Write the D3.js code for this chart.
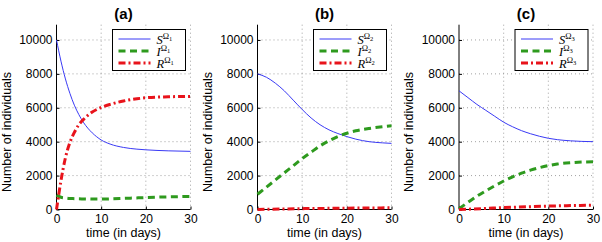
<!DOCTYPE html>
<html>
<head>
<meta charset="utf-8">
<script src="https://cdn.jsdelivr.net/npm/d3@7"></script>
<style>
  body { margin: 0; background: #fff; }
  svg { display: block; font-family: "Liberation Sans", Arial, sans-serif; }
</style>
</head>
<body>
<svg class="chart" width="602" height="242"></svg>
<script>
// time points (days) for each curve
const days = [0, 1, 2, 3, 4, 5, 6, 7, 8, 9, 10, 12, 15, 18, 20, 25, 30];
const days2 = [0, 2, 4, 6, 8, 10, 12, 14, 16, 18, 20, 22, 25, 28, 30];
const days3 = [0, 2, 4, 6, 8, 10, 12, 14, 16, 18, 20, 22, 25, 30];
const daysR = [0, 5, 10, 15, 20, 25, 30];

// panel (a)
const S1 = [10000, 8750, 7700, 6850, 6150, 5600, 5150, 4800, 4520, 4290, 4100, 3860, 3660, 3560, 3520, 3460, 3430];
const I1 = [850, 720, 680, 650, 640, 630, 625, 620, 615, 612, 612, 625, 655, 685, 705, 745, 775];
const R1 = [0, 1700, 3050, 3950, 4550, 5000, 5300, 5550, 5750, 5900, 6020, 6200, 6400, 6530, 6590, 6650, 6670];

// panel (b)
const S2 = [8000, 7800, 7450, 7000, 6450, 5900, 5400, 5000, 4700, 4480, 4300, 4150, 4000, 3930, 3900];
const I2 = [900, 1320, 1740, 2160, 2580, 3000, 3380, 3750, 4050, 4300, 4500, 4640, 4780, 4880, 4940];
const R2 = [0, 25, 50, 65, 80, 90, 100];

// panel (c)
const S3 = [7000, 6600, 6200, 5850, 5500, 5150, 4880, 4650, 4470, 4320, 4200, 4120, 4050, 4000];
const I3 = [50, 420, 780, 1100, 1400, 1680, 1930, 2140, 2320, 2470, 2590, 2680, 2760, 2820];
const R3 = [0, 50, 110, 160, 200, 230, 250];

const titles = ["(a)", "(b)", "(c)"];
const xTicks = [0, 10, 20, 30];
const yTicks = [0, 2000, 4000, 6000, 8000, 10000];

const panels = [
  { title: titles[0], sub: "1", S: [days, S1], I: [days, I1], R: [days, R1] },
  { title: titles[1], sub: "2", S: [days2, S2], I: [days2, I2], R: [daysR, R2] },
  { title: titles[2], sub: "3", S: [days3, S3], I: [days3, I3], R: [daysR, R3] }
];

const lefts = [56.5, 257.5, 459];
const pw = 134;
const plotTop = 24.7, plotBottom = 209.5;

const styles = {
  S: { color: "#3a3af5", width: 1, dash: null, name: "S" },
  I: { color: "#2e9a1e", width: 3, dash: "7,4.5", name: "I" },
  R: { color: "#e8131b", width: 3, dash: "7,3,2,3", name: "R" }
};

const svg = d3.select(".chart");

panels.forEach((p, k) => {
  const x = d3.scaleLinear().domain([0, 30]).range([lefts[k], lefts[k] + pw]);
  const y = d3.scaleLinear().domain([0, 10900]).range([plotBottom, plotTop]);

  const g = svg.append("g");

  // dotted grid
  g.append("g")
    .selectAll("line")
    .data(xTicks.slice(1))
    .join("line")
    .attr("x1", d => x(d)).attr("x2", d => x(d))
    .attr("y1", plotTop).attr("y2", plotBottom)
    .attr("stroke", "#8a8a8a").attr("stroke-width", 0.8)
    .attr("stroke-dasharray", "1,3");
  g.append("g")
    .selectAll("line")
    .data(yTicks.slice(1))
    .join("line")
    .attr("x1", x(0)).attr("x2", x(30))
    .attr("y1", d => y(d)).attr("y2", d => y(d))
    .attr("stroke", "#8a8a8a").attr("stroke-width", 0.8)
    .attr("stroke-dasharray", "1,3");

  // axes
  g.append("g")
    .attr("transform", `translate(0,${plotBottom})`)
    .call(d3.axisBottom(x).tickValues(xTicks).tickSize(-3).tickPadding(5))
    .call(a => a.select(".domain").attr("d", `M${x(0)},0H${x(30)}`))
    .call(a => a.selectAll("text").attr("font-size", 12).attr("fill", "#000"));
  g.append("g")
    .attr("transform", `translate(${x(0)},0)`)
    .call(d3.axisLeft(y).tickValues(yTicks).tickFormat(d3.format("d")).tickSize(-3).tickPadding(4))
    .call(a => a.select(".domain").attr("d", `M0,${plotTop}V${plotBottom}`))
    .call(a => a.selectAll("text").attr("font-size", 12).attr("fill", "#000"));

  // curves
  ["S", "I", "R"].forEach(key => {
    const st = styles[key];
    const [ts, vs] = p[key];
    const line = d3.line()
      .x((d, i) => x(ts[i]))
      .y(d => y(d))
      .curve(d3.curveMonotoneX);
    g.append("path")
      .attr("d", line(vs))
      .attr("fill", "none")
      .attr("stroke", st.color)
      .attr("stroke-width", st.width)
      .attr("stroke-dasharray", st.dash);
  });

  // titles and axis labels
  g.append("text")
    .attr("x", x(15)).attr("y", 19)
    .attr("text-anchor", "middle")
    .attr("font-size", 15).attr("font-weight", "bold")
    .text(p.title);
  g.append("text")
    .attr("x", x(15)).attr("y", 237)
    .attr("text-anchor", "middle")
    .attr("font-size", 12.5)
    .text("time (in days)");
  g.append("text")
    .attr("transform", `translate(${x(0) - 46},132) rotate(-90)`)
    .attr("text-anchor", "middle")
    .attr("font-size", 12.5)
    .text("Number of individuals");

  // legend
  const lx = x(30) - 78, ly = 29.5;
  const lg = g.append("g").attr("transform", `translate(${lx},${ly})`);
  lg.append("rect")
    .attr("width", 73).attr("height", 41)
    .attr("fill", "#fff").attr("stroke", "#000").attr("stroke-width", 1);
  ["S", "I", "R"].forEach((key, i) => {
    const st = styles[key];
    const ry = 9.5 + i * 12;
    lg.append("line")
      .attr("x1", 6).attr("x2", 38)
      .attr("y1", ry).attr("y2", ry)
      .attr("stroke", st.color)
      .attr("stroke-width", st.width)
      .attr("stroke-dasharray", st.dash);
    const t = lg.append("text")
      .attr("x", 44).attr("y", ry + 4.5)
      .attr("font-family", "'Liberation Serif', 'DejaVu Serif', serif")
      .attr("font-size", 12.5).attr("font-style", "italic");
    t.append("tspan").text(st.name);
    t.append("tspan").attr("dy", -4.5).attr("font-size", 8.5).attr("font-style", "normal").text("Ω");
    t.append("tspan").attr("dy", 1.5).attr("font-size", 6.5).attr("font-style", "normal").text(p.sub);
  });
});
</script>
</body>
</html>
